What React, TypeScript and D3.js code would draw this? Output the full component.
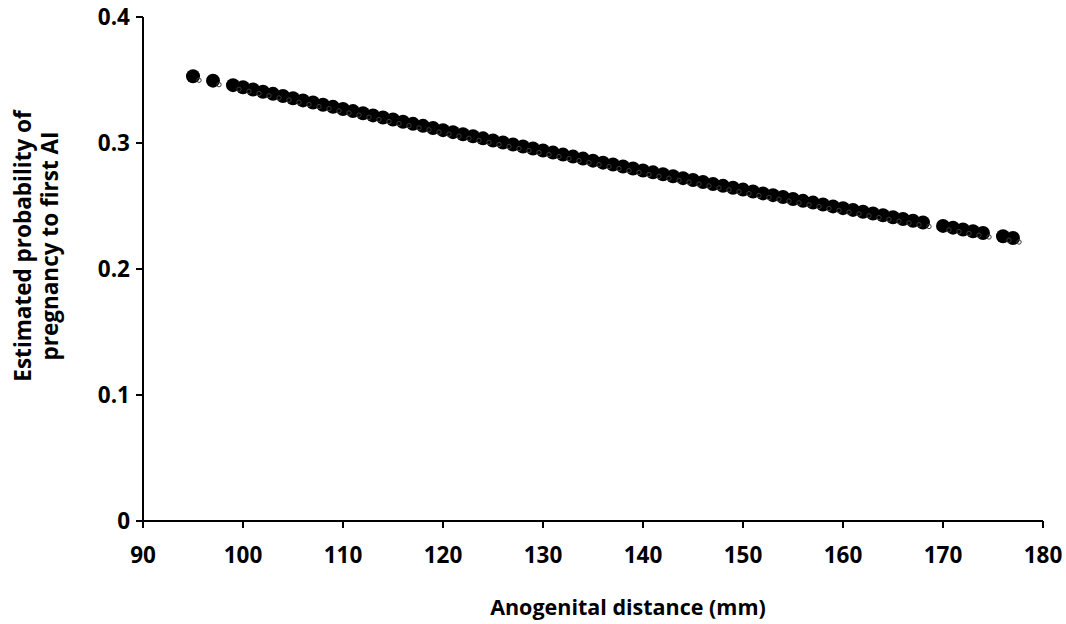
import React from "react";
import * as d3 from "d3";

const distances = [95, 97, 99, 100, 101, 102, 103, 104, 105, 106, 107, 108, 109, 110, 111, 112, 113, 114, 115, 116, 117, 118, 119, 120, 121, 122, 123, 124, 125, 126, 127, 128, 129, 130, 131, 132, 133, 134, 135, 136, 137, 138, 139, 140, 141, 142, 143, 144, 145, 146, 147, 148, 149, 150, 151, 152, 153, 154, 155, 156, 157, 158, 159, 160, 161, 162, 163, 164, 165, 166, 167, 168, 170, 171, 172, 173, 174, 176, 177];
const probabilities = [0.353, 0.3495, 0.3459, 0.3442, 0.3425, 0.3407, 0.339, 0.3373, 0.3355, 0.3338, 0.3321, 0.3304, 0.3287, 0.327, 0.3253, 0.3236, 0.3219, 0.3202, 0.3186, 0.3169, 0.3152, 0.3136, 0.3119, 0.3102, 0.3086, 0.3069, 0.3053, 0.3037, 0.302, 0.3004, 0.2988, 0.2972, 0.2956, 0.294, 0.2924, 0.2908, 0.2892, 0.2876, 0.286, 0.2844, 0.2829, 0.2813, 0.2798, 0.2782, 0.2767, 0.2752, 0.2736, 0.2721, 0.2706, 0.2691, 0.2675, 0.266, 0.2645, 0.263, 0.2615, 0.26, 0.2586, 0.2571, 0.2556, 0.2541, 0.2527, 0.2512, 0.2497, 0.2483, 0.2469, 0.2454, 0.244, 0.2426, 0.2411, 0.2397, 0.2383, 0.2369, 0.2342, 0.2328, 0.2314, 0.23, 0.2286, 0.226, 0.2246];

const xTicks = [90, 100, 110, 120, 130, 140, 150, 160, 170, 180];
const yTicks = [0, 0.1, 0.2, 0.3, 0.4];
const xTitle = "Anogenital distance (mm)";
const yTitleLines = ["Estimated probability of", "pregnancy to first AI"];

const W = 1066;
const H = 624;
const FONT = "'Open Sans', 'Liberation Sans', sans-serif";

export default function App() {
  const x = d3.scaleLinear().domain([90, 180]).range([143, 1043]);
  const y = d3.scaleLinear().domain([0, 0.4]).range([521, 17]);
  const yFmt = (v: number) => (v === 0 ? "0" : d3.format(".1f")(v));
  const pts = distances.map((d, i) => ({ d, p: probabilities[i] }));

  return (
    <svg
      width={W}
      height={H}
      style={{ position: "absolute", left: 0, top: 0, background: "#fff" }}
      fontFamily={FONT}
    >
      <rect x={0} y={0} width={W} height={H} fill="#fff" />
      {/* axes */}
      <line x1={x(90)} x2={x(180)} y1={y(0)} y2={y(0)} stroke="#000" strokeWidth={2} />
      <line x1={x(90)} x2={x(90)} y1={y(0)} y2={y(0.4)} stroke="#000" strokeWidth={2} />
      {xTicks.map((t) => (
        <g key={"xt" + t}>
          <line x1={x(t)} x2={x(t)} y1={y(0)} y2={y(0) + 7} stroke="#000" strokeWidth={2} />
          <text x={x(t)} y={y(0) + 42} textAnchor="middle" fontSize={22.5} fontWeight="bold" fill="#000">
            {t}
          </text>
        </g>
      ))}
      {yTicks.map((t) => (
        <g key={"yt" + t}>
          <line x1={x(90) - 7} x2={x(90)} y1={y(t)} y2={y(t)} stroke="#000" strokeWidth={2} />
          <text x={x(90) - 13} y={y(t)} dy="0.36em" textAnchor="end" fontSize={22.5} fontWeight="bold" fill="#000">
            {yFmt(t)}
          </text>
        </g>
      ))}
      {/* points */}
      {pts.map((pt) => (
        <circle key={"c" + pt.d} cx={x(pt.d)} cy={y(pt.p)} r={7} fill="#000" />
      ))}
      {pts.map((pt) => (
        <circle
          key={"s" + pt.d}
          cx={x(pt.d) + 6}
          cy={y(pt.p) + 4}
          r={2.2}
          fill="none"
          stroke="#3a3a3a"
          strokeWidth={1}
        />
      ))}
      {/* titles */}
      <text x={628} y={615} textAnchor="middle" fontSize={21.5} fontWeight="bold" fill="#000">
        {xTitle}
      </text>
      <g transform={`translate(0, 246) rotate(-90)`}>
        {yTitleLines.map((l, i) => (
          <text key={l} x={0} y={31 + i * 27} textAnchor="middle" fontSize={22.5} fontWeight="bold" fill="#000">
            {l}
          </text>
        ))}
      </g>
    </svg>
  );
}
